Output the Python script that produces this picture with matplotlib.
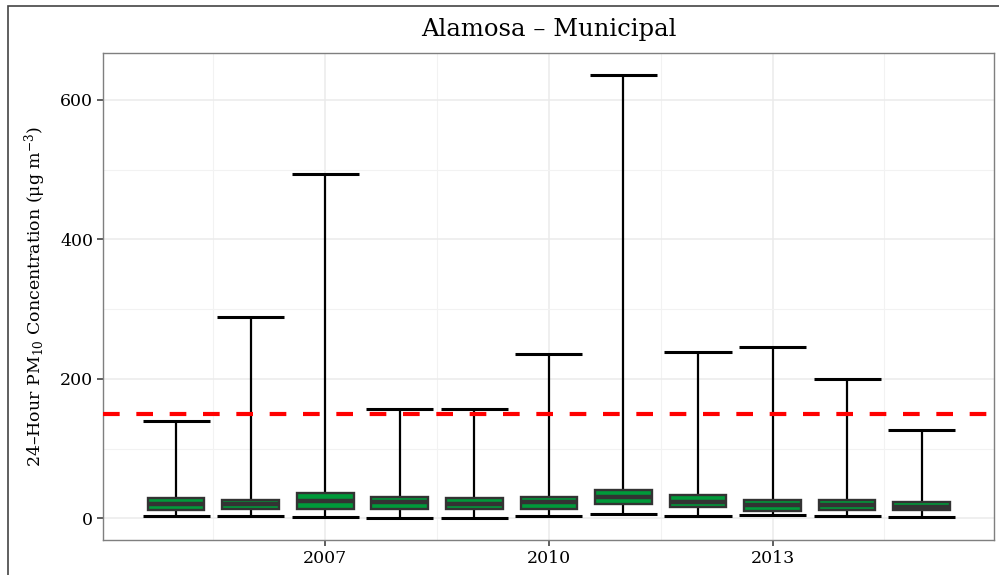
"""Alamosa - Municipal: yearly 24-hour PM10 box plots with min/max bars."""

import matplotlib

matplotlib.use("Agg")
import matplotlib.pyplot as plt
from matplotlib.patches import Rectangle

# ---------------------------------------------------------------------------
# Data
# ---------------------------------------------------------------------------
years = [2005, 2006, 2007, 2008, 2009, 2010, 2011, 2012, 2013, 2014, 2015]
mins = [3, 4, 2, 1, 1, 4, 6, 4, 5, 4, 2]
q1 = [12, 13, 14, 14, 13, 14, 20, 16, 11, 12, 12]
medians = [21, 21, 25, 23, 21, 23, 30, 24, 19, 19, 17]
q3 = [29, 27, 36, 30, 29, 30, 41, 34, 27, 26, 24]
maxs = [140, 288, 494, 157, 157, 236, 636, 239, 246, 200, 126]

standard = 150  # 24-hour PM10 NAAQS

FONT = "DejaVu Serif"
GREEN = "#009a3a"
DARK = "#333333"


def main() -> None:
    plt.rcParams["font.family"] = FONT
    plt.rcParams["mathtext.fontset"] = "dejavuserif"

    fig = plt.figure(figsize=(9.99, 5.75), dpi=100)
    ax = fig.add_axes([103 / 999, 35 / 575, 891 / 999, 487 / 575])

    # outer frame (ggplot plot.background border, cropped right/bottom)
    fig.patches.append(
        Rectangle((8 / 999, -0.05), 1.1, 0.05 + 569 / 575,
                  transform=fig.transFigure, fill=False,
                  edgecolor="#444444", linewidth=1.2, zorder=0)
    )

    # min-max bars
    half_cap = 0.45
    ax.vlines(years, mins, maxs, color="black", linewidth=1.6, zorder=2)
    ax.hlines(maxs, [y - half_cap for y in years], [y + half_cap for y in years],
              color="black", linewidth=2.2, zorder=2)
    ax.hlines(mins, [y - half_cap for y in years], [y + half_cap for y in years],
              color="black", linewidth=2.2, zorder=2)

    # boxes
    stats = [
        {"med": m, "q1": a, "q3": b, "whislo": a, "whishi": b, "fliers": []}
        for m, a, b in zip(medians, q1, q3)
    ]
    ax.bxp(stats, positions=years, widths=0.76, patch_artist=True,
           showcaps=False, showfliers=False,
           boxprops=dict(facecolor=GREEN, edgecolor=DARK, linewidth=1.7),
           medianprops=dict(color=DARK, linewidth=3.2),
           whiskerprops=dict(linewidth=0), zorder=3)

    # standard line
    ax.axhline(standard, color="#ff0000", linewidth=3, linestyle=(0, (4, 4)),
               zorder=4)

    # axes styling (theme_bw look)
    ax.set_xlim(2004.02, 2015.97)
    ax.set_ylim(-31, 667)
    ax.set_xticks([2007, 2010, 2013])
    ax.set_xticklabels(["2007", "2010", "2013"])
    ax.set_xticks([2005.5, 2008.5, 2011.5, 2014.5], minor=True)
    ax.set_yticks([0, 200, 400, 600])
    ax.set_yticks([100, 300, 500], minor=True)
    ax.grid(which="major", color="#ebebeb", linewidth=1.1, zorder=0)
    ax.grid(which="minor", color="#f2f2f2", linewidth=0.8, zorder=0)
    ax.set_axisbelow(True)
    ax.tick_params(axis="both", which="major", direction="out", length=4,
                   width=1.1, color=DARK, labelsize=12.5, labelcolor="black",
                   pad=3)
    ax.tick_params(axis="both", which="minor", length=0)
    for spine in ax.spines.values():
        spine.set_color("#7f7f7f")
        spine.set_linewidth(1.0)

    ax.set_ylabel("24\u2013Hour PM$_{10}$ Concentration (\u03bcg m$^{-3}$)",
                  fontsize=12.5)
    ax.yaxis.set_label_coords(-0.062, 0.5)

    fig.text(548.5 / 999, 0.948, "Alamosa \u2013 Municipal", ha="center",
             va="center", fontsize=17.5)

    fig.savefig("out.png", dpi=100)
    plt.close(fig)


if __name__ == "__main__":
    main()
